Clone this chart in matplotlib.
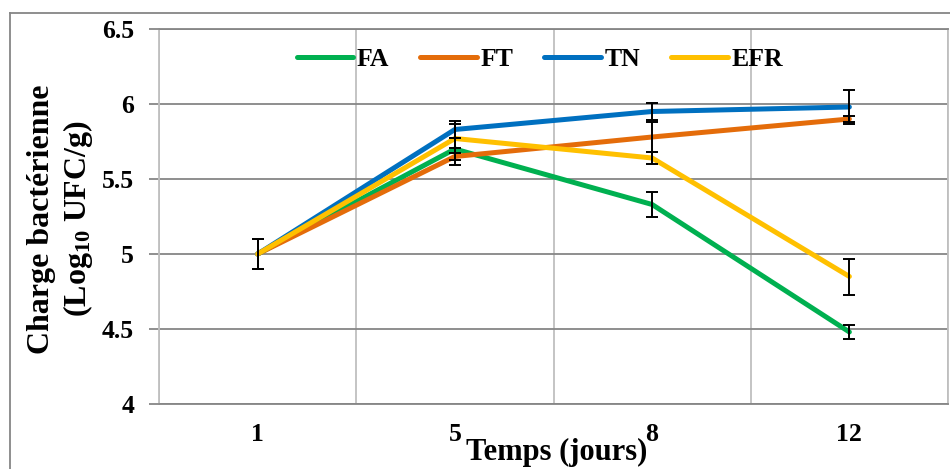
import matplotlib
matplotlib.use("Agg")
import matplotlib.pyplot as plt
from matplotlib.lines import Line2D

# ── données : charge bactérienne moyenne et écart-type ──────────────────────
jours = ["1", "5", "8", "12"]
series = ["FA", "FT", "TN", "EFR"]

fa_moy = [5.00, 5.70, 5.33, 4.48]
ft_moy = [5.00, 5.65, 5.78, 5.90]
tn_moy = [5.00, 5.83, 5.95, 5.98]
efr_moy = [5.00, 5.77, 5.64, 4.85]

fa_err = [0.10, 0.075, 0.085, 0.05]
ft_err = [0.10, 0.06, 0.10, 0.02]
tn_err = [0.10, 0.06, 0.055, 0.11]
efr_err = [0.10, 0.095, 0.04, 0.12]

couleurs = ["#00B050", "#E46C0A", "#0070C0", "#FFC000"]

plt.rcParams["font.family"] = ["Liberation Serif", "DejaVu Serif"]
plt.rcParams["font.weight"] = "bold"
plt.rcParams["mathtext.default"] = "regular"

fig = plt.figure(figsize=(9.5, 4.69), dpi=100)
ax = fig.add_axes([159 / 950, 1 - 404 / 469, 789 / 950, 375 / 469])

# chaque jour au centre d'une case de largeur 2
xpos = [2 * i + 1 for i in range(len(jours))]
moyennes = [fa_moy, ft_moy, tn_moy, efr_moy]
erreurs = [fa_err, ft_err, tn_err, efr_err]

for nom, y, c in zip(series, moyennes, couleurs):
    ax.plot(xpos, y, color=c, lw=3.6, solid_capstyle="round",
            solid_joinstyle="round", label=nom, zorder=3)

for y, e in zip(moyennes, erreurs):
    ax.errorbar(xpos, y, yerr=e, fmt="none", ecolor="black",
                elinewidth=1.4, capsize=4.5, capthick=1.4, zorder=4)

ax.set_xlim(0, 8)
ax.set_ylim(4, 6.5)
ax.set_yticks([4, 4.5, 5, 5.5, 6, 6.5])
ax.set_yticklabels(["4", "4.5", "5", "5.5", "6", "6.5"])
ax.set_xticks(xpos)
ax.set_xticklabels(jours)
ax.set_xticks(range(0, 9), minor=True)

ax.grid(axis="y", color="#868686", lw=1.3)
ax.grid(axis="x", which="minor", color="#BFBFBF", lw=1.3)
ax.set_axisbelow(True)

ax.tick_params(axis="y", length=7, width=1.3, color="#868686",
               pad=11, labelsize=18.5)
ax.tick_params(axis="x", which="both", length=0, pad=14, labelsize=18.5)

for cote in ["top", "bottom"]:
    ax.spines[cote].set_color("#868686")
    ax.spines[cote].set_linewidth(1.3)
for cote in ["left", "right"]:
    ax.spines[cote].set_color("#BFBFBF")
    ax.spines[cote].set_linewidth(1.3)

leg = ax.legend(loc="center", bbox_to_anchor=((540 - 159) / 789, (404 - 59) / 375),
                ncol=4, frameon=False, fontsize=18.5, handlelength=2.2,
                handletextpad=0.15, columnspacing=1.2)

fig.text(61 / 950, 1 - 219 / 469, "Charge bactérienne\n(Log$_{10}$ UFC/g)",
         rotation=90, ha="center", va="center", ma="center",
         fontsize=23, fontweight="bold", linespacing=1.2)
fig.text(557 / 950, 1 - 452 / 469, "Temps (jours)", ha="center", va="center",
         fontsize=22, fontweight="bold")

# cadre extérieur du graphique
fig.add_artist(Line2D([10 / 950, 10 / 950], [0, 1 - 13 / 469],
                      transform=fig.transFigure, color="#868686", lw=1.3))
fig.add_artist(Line2D([10 / 950, 1], [1 - 13 / 469, 1 - 13 / 469],
                      transform=fig.transFigure, color="#868686", lw=1.3))

fig.savefig("out.png", dpi=100)
